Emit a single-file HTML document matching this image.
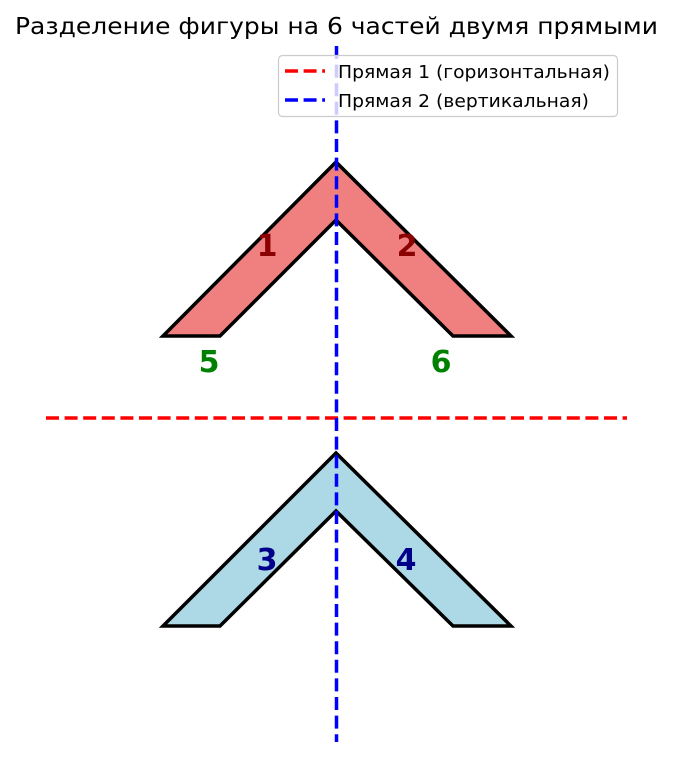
<!DOCTYPE html>
<html><head><meta charset="utf-8"><style>html,body{margin:0;padding:0;background:#fff}</style></head>
<body>
<svg width="673" height="758" viewBox="0 0 673 758" xmlns="http://www.w3.org/2000/svg" font-family="DejaVu Sans, Liberation Sans, sans-serif">
<rect width="673" height="758" fill="#fff"/>
<text x="15" y="34" font-size="23" textLength="643" lengthAdjust="spacingAndGlyphs" fill="#000">Разделение фигуры на 6 частей двумя прямыми</text>
<polygon points="163,336 336,162 511,336 453,336 336,220 220,336" fill="#f08080" stroke="#000" stroke-width="3.5" stroke-linejoin="miter"/>
<polygon points="163,626 336,453 511,626 453,626 336,511 220,626" fill="#add8e6" stroke="#000" stroke-width="3.5" stroke-linejoin="miter"/>
<g font-size="30" font-weight="bold" text-anchor="middle">
<text x="267" y="256" fill="#8b0000">1</text>
<text x="407" y="256" fill="#8b0000">2</text>
<text x="209" y="372" fill="#008000">5</text>
<text x="441" y="372" fill="#008000">6</text>
<text x="267" y="570" fill="#00008b">3</text>
<text x="406" y="570" fill="#00008b">4</text>
</g>
<line x1="46" y1="418" x2="627" y2="418" stroke="#f00" stroke-width="3.5" stroke-dasharray="13,5.6"/>
<line x1="336.5" y1="46" x2="336.5" y2="742" stroke="#00f" stroke-width="3.5" stroke-dasharray="13,5.6"/>
<rect x="278.5" y="55.5" width="339" height="61" rx="4" fill="#fff" fill-opacity="0.8" stroke="#ccc" stroke-width="1.2"/>
<line x1="285" y1="71" x2="325" y2="71" stroke="#f00" stroke-width="3.5" stroke-dasharray="13,5.6"/>
<line x1="285" y1="100" x2="325" y2="100" stroke="#00f" stroke-width="3.5" stroke-dasharray="13,5.6"/>
<text x="338" y="78" font-size="18" textLength="272" lengthAdjust="spacingAndGlyphs" fill="#000">Прямая 1 (горизонтальная)</text>
<text x="338" y="107" font-size="18" textLength="251" lengthAdjust="spacingAndGlyphs" fill="#000">Прямая 2 (вертикальная)</text>
</svg>
</body></html>
